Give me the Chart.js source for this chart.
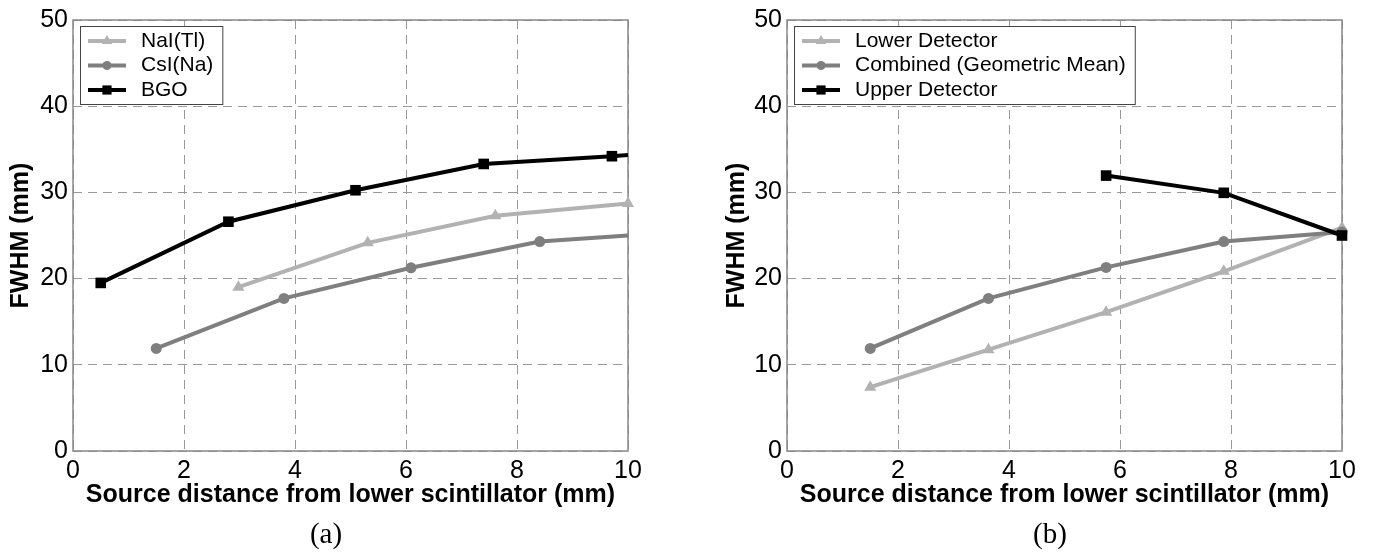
<!DOCTYPE html>
<html>
<head>
<meta charset="utf-8">
<script src="https://cdn.jsdelivr.net/npm/chart.js@4.4.0/dist/chart.umd.min.js"></script>
<style>
  body { margin: 0; background: #fff; width: 1373px; height: 560px; position: relative; overflow: hidden; }
  canvas { position: absolute; top: 0; }
  #chartA { left: 0; }
  #chartB { left: 690px; }
  .caption { position: absolute; top: 533px; transform: translate(-50%, -50%);
             font-family: "Liberation Serif", "DejaVu Serif", serif; font-size: 29px; color: #000; }
</style>
</head>
<body>
<canvas id="chartA" width="690" height="560"></canvas>
<canvas id="chartB" width="683" height="560"></canvas>
<div class="caption" style="left:326px">(a)</div>
<div class="caption" style="left:1050px">(b)</div>
<script>
// (a) FWHM per crystal
const naiX = [2.98, 5.31, 7.61, 10.0];
const naiY = [19.0, 24.15, 27.3, 28.7];
const csiX = [1.5, 3.8, 6.09, 8.41, 10.0];
const csiY = [11.9, 17.7, 21.25, 24.3, 25.0];
const bgoX = [0.5, 2.8, 5.09, 7.4, 9.71, 10.0];
const bgoY = [19.5, 26.6, 30.25, 33.3, 34.2, 34.35];

// (b) lower / combined / upper detector
const lowerX = [1.5, 3.63, 5.75, 7.87, 10.0];
const lowerY = [7.4, 11.75, 16.1, 20.85, 25.9];
const combX = [1.5, 3.63, 5.75, 7.87, 10.0];
const combY = [11.9, 17.7, 21.3, 24.3, 25.4];
const upperX = [5.75, 7.87, 10.0];
const upperY = [31.95, 29.95, 25.0];

const xTicks = [0, 2, 4, 6, 8, 10];
const yTicks = [0, 10, 20, 30, 40, 50];

const FONT = '"Liberation Sans", Arial, Helvetica, sans-serif';
const LIGHT = '#b2b2b2', MID = '#7f7f7f', DARK = '#000000';

function markerSize(style) {
  return style === 'triangle' ? 7 : (style === 'rect' ? 7.5 : 5.5);
}

// lastOff: line runs on to the axis edge without a marker there
function series(label, xs, ys, color, style, order, lastOff) {
  return {
    label: label,
    data: xs.map((x, i) => ({ x: x, y: ys[i] })),
    borderColor: color,
    backgroundColor: color,
    borderWidth: 4,
    pointStyle: style,
    pointRadius: c => (lastOff && c.dataIndex === xs.length - 1) ? 0 : markerSize(style),
    pointBorderWidth: 0,
    pointHoverRadius: 0,
    tension: 0,
    clip: false,
    order: order
  };
}

const frame = {
  id: 'frame',
  beforeDatasetsDraw(chart) {
    const { ctx, chartArea: a } = chart;
    ctx.save();
    ctx.strokeStyle = '#888';
    ctx.lineWidth = 1.5;
    ctx.strokeRect(a.left, a.top, a.right - a.left, a.bottom - a.top);
    ctx.restore();
  }
};

const boxLegend = {
  id: 'boxLegend',
  afterDraw(chart) {
    const { ctx, chartArea } = chart;
    const x0 = chartArea.left + 7, y0 = chartArea.top + 6;
    const rowH = 24.5;
    const sets = chart.data.datasets;
    ctx.save();
    ctx.font = '21px ' + FONT;
    const tw = Math.max(...sets.map(d => ctx.measureText(d.label).width));
    const w = 61 + tw + 9, h = rowH * sets.length + 4.5;
    ctx.fillStyle = '#fff';
    ctx.fillRect(x0, y0, w, h);
    ctx.strokeStyle = '#444';
    ctx.lineWidth = 1;
    ctx.strokeRect(x0 + 0.5, y0 + 0.5, w, h);
    sets.forEach((d, i) => {
      const cy = y0 + 15 + i * rowH;
      ctx.strokeStyle = d.borderColor;
      ctx.lineWidth = d.borderWidth;
      ctx.beginPath();
      ctx.moveTo(x0 + 8, cy);
      ctx.lineTo(x0 + 46, cy);
      ctx.stroke();
      ctx.fillStyle = d.borderColor;
      Chart.helpers.drawPoint(ctx, { pointStyle: d.pointStyle, radius: markerSize(d.pointStyle) - 1, rotation: 0, borderWidth: 0 }, x0 + 27, cy);
      ctx.fillStyle = '#000';
      ctx.textBaseline = 'middle';
      ctx.textAlign = 'left';
      ctx.fillText(d.label, x0 + 61, cy);
    });
    ctx.restore();
  }
};

function axes(yWidth) {
  return {
    x: {
      type: 'linear', min: 0, max: 10,
      afterBuildTicks: s => { s.ticks = xTicks.map(v => ({ value: v })); },
      afterFit: s => { s.height = 109; },
      grid: { color: '#999', lineWidth: 1, drawTicks: false },
      border: { display: false, dash: [9, 6] },
      ticks: { color: '#000', font: { family: FONT, size: 25 }, padding: 5, maxRotation: 0, autoSkip: false },
      title: { display: true, text: 'Source distance from lower scintillator (mm)', color: '#000',
               font: { family: FONT, size: 25, weight: 'bold' }, padding: { top: 0, bottom: 50 } }
    },
    y: {
      type: 'linear', min: 0, max: 50,
      afterBuildTicks: s => { s.ticks = yTicks.map(v => ({ value: v })); },
      afterFit: s => { s.width = yWidth; },
      grid: { color: '#999', lineWidth: 1, drawTicks: false },
      border: { display: false, dash: [9, 6] },
      ticks: { color: '#000', font: { family: FONT, size: 25 }, padding: 5, autoSkip: false },
      title: { display: true, text: 'FWHM (mm)', color: '#000',
               font: { family: FONT, size: 25, weight: 'bold' }, padding: { top: 6, bottom: 0 } }
    }
  };
}

function options(padLeft, padRight, yWidth) {
  return {
    responsive: false,
    animation: false,
    devicePixelRatio: 1,
    layout: { padding: { left: padLeft, right: padRight, top: 15, bottom: 0 } },
    plugins: { legend: { display: false }, tooltip: { enabled: false } },
    scales: axes(yWidth)
  };
}

new Chart(document.getElementById('chartA'), {
  type: 'line',
  data: {
    datasets: [
      series('NaI(Tl)', naiX, naiY, LIGHT, 'triangle', 2, false),
      series('CsI(Na)', csiX, csiY, MID, 'circle', 1, true),
      series('BGO', bgoX, bgoY, DARK, 'rect', 0, true)
    ]
  },
  options: options(0, 62, 73),
  plugins: [frame, boxLegend]
});

new Chart(document.getElementById('chartB'), {
  type: 'line',
  data: {
    datasets: [
      series('Lower Detector', lowerX, lowerY, LIGHT, 'triangle', 2, false),
      series('Combined (Geometric Mean)', combX, combY, MID, 'circle', 1, false),
      series('Upper Detector', upperX, upperY, DARK, 'rect', 0, false)
    ]
  },
  options: options(26, 31, 71),
  plugins: [frame, boxLegend]
});
</script>
</body>
</html>
